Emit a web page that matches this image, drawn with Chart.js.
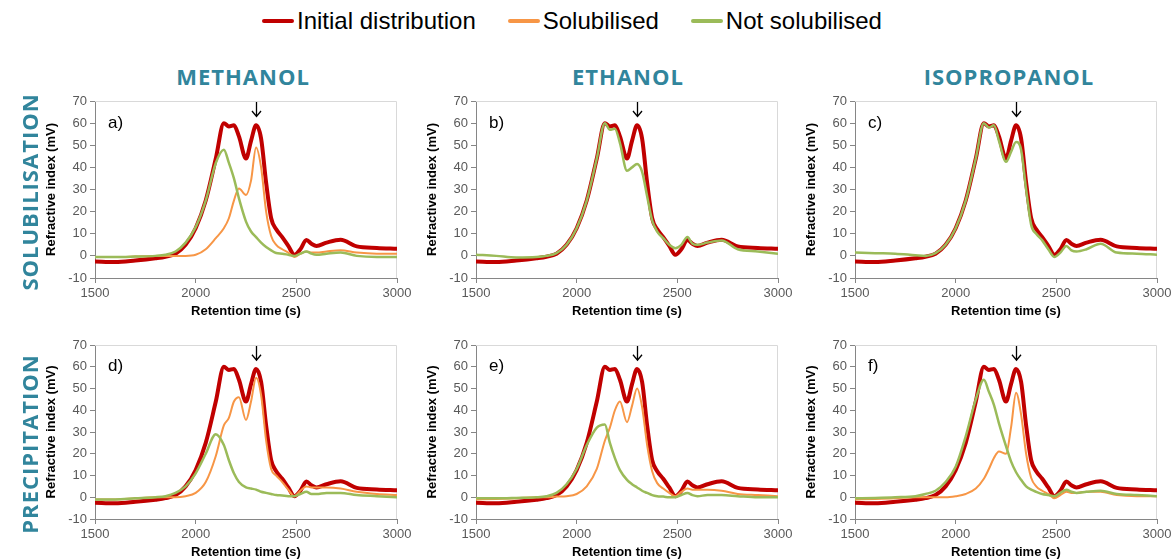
<!DOCTYPE html>
<html>
<head>
<meta charset="utf-8">
<script src="https://cdn.jsdelivr.net/npm/chart.js@4.4.1/dist/chart.umd.min.js"></script>
<style>
  body { margin: 0; width: 1174px; height: 560px; background: #fff; position: relative; overflow: hidden;
         font-family: 'Liberation Sans', Arial, sans-serif; }
  canvas { position: absolute; }
  .legend { position: absolute; left: 262px; top: 7px; display: flex; align-items: center; font-size: 24px; color: #000; }
  .legend .item { display: flex; align-items: center; margin-right: 32px; }
  .legend .sw { display: inline-block; width: 32px; height: 4px; margin-right: 3px; border-radius: 2px; }
  .head, .row { position: absolute; font-family: 'Open Sans', sans-serif; font-weight: bold; color: #31859C;
                line-height: 30px; white-space: nowrap; }
  .head { top: 61px; font-size: 22px; letter-spacing: 1px; transform: translateX(-50%); }
  .row { font-size: 22px; letter-spacing: 1px; transform: translate(-50%, -50%) rotate(-90deg); }
</style>
</head>
<body>

<div class="legend">
  <div class="item"><span class="sw" style="background:#C00000"></span>Initial distribution</div>
  <div class="item"><span class="sw" style="background:#F79646"></span>Solubilised</div>
  <div class="item"><span class="sw" style="background:#9BBB59"></span>Not solubilised</div>
</div>

<div class="head" style="left:243px">METHANOL</div>
<div class="head" style="left:628px">ETHANOL</div>
<div class="head" style="left:1009px">ISOPROPANOL</div>

<canvas id="pa" width="371" height="242" style="left:40px;top:81px"></canvas>
<canvas id="pb" width="371" height="242" style="left:421px;top:81px"></canvas>
<canvas id="pc" width="372" height="242" style="left:800px;top:81px"></canvas>
<canvas id="pd" width="371" height="239" style="left:40px;top:325px"></canvas>
<canvas id="pe" width="371" height="239" style="left:421px;top:325px"></canvas>
<canvas id="pf" width="372" height="239" style="left:800px;top:325px"></canvas>

<div class="row" style="left:29px;top:192px">SOLUBILISATION</div>
<div class="row" style="left:29px;top:444px">PRECIPITATION</div>

<script>
// retention time grid (s), shared by every curve
const retentionTime = [1500, 1600, 1700, 1800, 1850, 1900, 1950, 2000, 2050, 2100, 2140, 2165, 2190, 2215,
  2250, 2275, 2300, 2325, 2350, 2375, 2400, 2430, 2460, 2490, 2520, 2550, 2575, 2600, 2650, 2720, 2800, 2900, 3000];

// refractive index (mV)
const initialDistribution = [-2.5, -2.8, -2.1, -1.1, -0.4, 1, 5, 12.5, 25, 44, 60, 58.5, 59, 54,
  44, 52, 59, 53, 33, 17, 12, 8.5, 4.5, 0.5, 3, 7.2, 5.5, 4.5, 6, 7.3, 4.3, 3.6, 3.2];

// a) methanol solubilisation
const solubilisedA = [-0.5, -0.5, -0.3, 0, 0, 0, 0, 0.5, 3, 8, 12.5, 17, 25, 30.5,
  27.5, 34, 49, 40, 20, 9, 5, 3, 1.5, -0.5, 1, 2, 1.5, 1.5, 2, 2.5, 1.5, 1, 1];
const notSolubilisedA = [-0.5, -0.5, -0.3, 0, 0.5, 2, 6, 13, 25, 42, 48, 42, 35, 26,
  15.5, 11, 8.5, 6, 4, 2.5, 1.3, 1, 0.5, 0, 1, 2, 1, 0.5, 1, 1.5, 0, -0.5, -0.5];

// b) ethanol solubilisation
const notSolubilisedB = [0.5, 0, -0.7, -0.5, 0, 1.2, 5, 12.5, 25, 44, 60, 57, 57.5, 51,
  38.5, 40, 41.5, 38, 27, 16, 11, 8, 5, 3.5, 5, 8.5, 5.5, 5, 6, 7, 3, 2, 1];

// c) isopropanol solubilisation
const notSolubilisedC = [1.5, 1.2, 1, 0.3, 0, 1.2, 5, 12.5, 25, 44, 60, 58, 59, 52,
  42.5, 47, 51.5, 48, 30, 14, 10, 7, 3, -0.5, 1.5, 4.5, 2.5, 2, 3, 5.5, 1.5, 1, 0.5];

// d) methanol precipitation
const solubilisedD = [-1, -1, -0.5, 0, 0, 0, 0.5, 2, 7, 19, 33, 36.5, 44, 46,
  35.5, 44, 55, 47, 26, 13, 10, 7, 3.5, 0.5, 3, 5, 4.5, 4.5, 4.5, 4, 2.5, 1.5, 1];
const notSolubilisedD = [-1, -1, -0.5, 0, 0.5, 2, 5, 11, 20, 29, 24, 17, 11, 7,
  4.5, 4, 3.5, 2.5, 2, 1.5, 1, 0.8, 0.5, 0.5, 1.5, 2.5, 1.5, 1.5, 2, 2, 1, 0.5, 0];

// e) ethanol precipitation
const solubilisedE = [-1, -0.8, -0.5, 0, 0, 0.3, 0.5, 1.5, 5, 13, 26, 32, 40, 44,
  34.5, 42, 50, 41.5, 24, 12, 6.5, 4, 2, 0.5, 2.5, 4, 3.5, 3.5, 3.5, 3, 1.5, 1, 0.5];
const notSolubilisedE = [-0.5, -0.5, -0.3, 0, 0.5, 2, 6, 13, 24, 32, 33.5, 25, 18, 12.5,
  8, 6, 4.5, 3, 2, 1, 0.5, 0.3, 0, 0, 1, 2, 1, 0.5, 1, 1, 0.5, 0, 0];

// f) isopropanol precipitation
const solubilisedF = [-1, -0.8, -0.5, 0, 0, 0, 0, 0.5, 1.5, 4, 8.5, 13, 18, 21,
  20, 32, 48, 38, 20, 9, 5, 3, 1.5, -0.5, 1, 2.5, 2, 2, 2.5, 2.5, 1, 0.5, 0.5];
const notSolubilisedF = [-0.5, -0.3, 0, 0.5, 1.5, 3, 7, 14, 28, 45, 54, 48.5, 42.5, 34,
  23.5, 16.5, 11.5, 8, 5, 3.5, 2.5, 1.5, 1, 0.5, 2, 3.5, 2.5, 2, 2.5, 3, 1.5, 1, 0.5];

const xTicks = { min: 1500, max: 3000, step: 500 };
const yTicks = { min: -10, max: 70, step: 10 };
const arrowAt = 2300;

Chart.defaults.font.family = "'Liberation Sans', Arial, sans-serif";

const pts = vals => retentionTime.map((t, i) => ({ x: t, y: vals[i] }));

// light frame on top/right, panel letter and the arrow over the second peak
const panelDecor = {
  id: 'panelDecor',
  beforeDatasetsDraw(chart) {
    const { ctx, chartArea: a } = chart;
    ctx.save();
    ctx.strokeStyle = '#D9D9D9';
    ctx.lineWidth = 1;
    ctx.beginPath();
    ctx.moveTo(a.left, a.top + 0.5);
    ctx.lineTo(a.right - 0.5, a.top + 0.5);
    ctx.lineTo(a.right - 0.5, a.bottom);
    ctx.stroke();
    ctx.restore();
  },
  afterDatasetsDraw(chart, args, opts) {
    const { ctx, scales: { x, y } } = chart;
    ctx.save();
    ctx.fillStyle = '#000';
    ctx.font = "17px 'Liberation Sans', Arial, sans-serif";
    ctx.textBaseline = 'middle';
    ctx.fillText(opts.letter, x.getPixelForValue(1565), y.getPixelForValue(60));
    const px = Math.round(x.getPixelForValue(arrowAt)) + 0.5;
    const y1 = y.getPixelForValue(69.5), y2 = y.getPixelForValue(63);
    ctx.strokeStyle = '#000';
    ctx.lineWidth = 1.3;
    ctx.beginPath();
    ctx.moveTo(px, y1);
    ctx.lineTo(px, y2);
    ctx.moveTo(px - 4.5, y2 - 5.5);
    ctx.lineTo(px, y2);
    ctx.lineTo(px + 4.5, y2 - 5.5);
    ctx.stroke();
    ctx.restore();
  }
};

function makePanel(canvasId, letter, solValues, notValues) {
  const datasets = [{
    label: 'Initial distribution', data: pts(initialDistribution),
    borderColor: '#C00000', borderWidth: 4, order: 2
  }];
  if (solValues) {
    datasets.push({ label: 'Solubilised', data: pts(solValues), borderColor: '#F79646', borderWidth: 2, order: 1 });
  }
  datasets.push({ label: 'Not solubilised', data: pts(notValues), borderColor: '#9BBB59', borderWidth: 2.5, order: 0 });

  const right = canvasId === 'pc' || canvasId === 'pf' ? 15 : 14;

  new Chart(document.getElementById(canvasId), {
    type: 'line',
    data: { datasets },
    options: {
      responsive: false,
      animation: false,
      layout: { padding: { top: 20, right: right, bottom: 0, left: 0 } },
      elements: {
        point: { radius: 0 },
        line: { cubicInterpolationMode: 'monotone', borderCapStyle: 'round', borderJoinStyle: 'round', fill: false }
      },
      plugins: { legend: { display: false }, tooltip: { enabled: false }, panelDecor: { letter } },
      scales: {
        x: {
          type: 'linear', min: xTicks.min, max: xTicks.max,
          ticks: { stepSize: xTicks.step, color: '#595959', font: { size: 13 }, padding: 3, maxRotation: 0,
                   callback: v => String(v) },
          grid: { drawOnChartArea: false, tickLength: 5, color: '#868686' },
          border: { color: '#868686' },
          title: { display: true, text: 'Retention time (s)', color: '#000', font: { size: 13, weight: 'bold' } },
          afterFit(s) { s.height = 45; s.paddingLeft = 0; s.paddingRight = 0; }
        },
        y: {
          min: yTicks.min, max: yTicks.max,
          ticks: { stepSize: yTicks.step, color: '#595959', font: { size: 13 }, padding: 3,
                   callback: v => String(v) },
          grid: { drawOnChartArea: false, tickLength: 5, color: '#868686' },
          border: { color: '#868686' },
          title: { display: true, text: 'Refractive index (mV)', color: '#000', font: { size: 13, weight: 'bold' } },
          afterFit(s) { s.width = 55; s.paddingTop = 0; s.paddingBottom = 0; }
        }
      }
    },
    plugins: [panelDecor]
  });
}

makePanel('pa', 'a)', solubilisedA, notSolubilisedA);
makePanel('pb', 'b)', null, notSolubilisedB);
makePanel('pc', 'c)', null, notSolubilisedC);
makePanel('pd', 'd)', solubilisedD, notSolubilisedD);
makePanel('pe', 'e)', solubilisedE, notSolubilisedE);
makePanel('pf', 'f)', solubilisedF, notSolubilisedF);
</script>
</body>
</html>
